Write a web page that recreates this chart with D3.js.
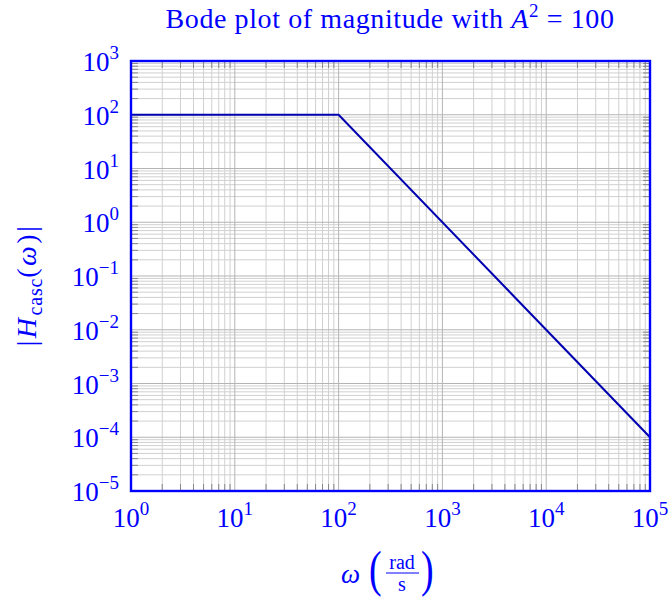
<!DOCTYPE html>
<html>
<head>
<meta charset="utf-8">
<script src="https://cdn.jsdelivr.net/npm/d3@7"></script>
<style>
  body { margin: 0; background: #fff; }
  text { font-family: "Liberation Serif", "DejaVu Serif", serif; fill: #0000ff; }
</style>
</head>
<body>
<svg id="chart" width="670" height="600"></svg>
<script>
// asymptotic bode magnitude, A^2 = 100, corner at 10^2
var omega = [1, 100, 100000];
var magnitude = [100, 100, 0.0001];
var xTickExps = [0, 1, 2, 3, 4, 5];
var yTickExps = [-5, -4, -3, -2, -1, 0, 1, 2, 3];

var svg = d3.select('#chart');
var margin = {left: 131, top: 61, right: 20, bottom: 109};
var w = 670 - margin.left - margin.right;
var h = 600 - margin.top - margin.bottom;

var x = d3.scaleLog().domain([1, 1e5]).range([0, w]);
var y = d3.scaleLog().domain([1e-5, 1e3]).range([h, 0]);

var g = svg.append('g').attr('transform', 'translate(' + margin.left + ',' + margin.top + ')');

// minor + major positions
var xMinor = [], yMinor = [];
for (var e = 0; e < 5; e++) for (var k = 2; k <= 9; k++) xMinor.push(k * Math.pow(10, e));
for (var e2 = -5; e2 < 3; e2++) for (var k2 = 2; k2 <= 9; k2++) yMinor.push(k2 * Math.pow(10, e2));
var xMajor = xTickExps.map(d => Math.pow(10, d));
var yMajor = yTickExps.map(d => Math.pow(10, d));

// grid
g.selectAll('.xminor').data(xMinor).enter().append('line')
  .attr('x1', d => x(d)).attr('x2', d => x(d)).attr('y1', 0).attr('y2', h)
  .attr('stroke', '#d0d0d0').attr('stroke-width', 1);
g.selectAll('.yminor').data(yMinor).enter().append('line')
  .attr('y1', d => y(d)).attr('y2', d => y(d)).attr('x1', 0).attr('x2', w)
  .attr('stroke', '#d0d0d0').attr('stroke-width', 1);
g.selectAll('.xmajor').data(xMajor).enter().append('line')
  .attr('x1', d => x(d)).attr('x2', d => x(d)).attr('y1', 0).attr('y2', h)
  .attr('stroke', '#b4b4b4').attr('stroke-width', 1);
g.selectAll('.ymajor').data(yMajor).enter().append('line')
  .attr('y1', d => y(d)).attr('y2', d => y(d)).attr('x1', 0).attr('x2', w)
  .attr('stroke', '#b4b4b4').attr('stroke-width', 1);

// inner ticks on all four sides
var tickCol = '#888';
[0, h].forEach(function(yy, i) {
  var dir = i === 0 ? 1 : -1;
  g.selectAll(null).data(xMinor).enter().append('line')
    .attr('x1', d => x(d)).attr('x2', d => x(d))
    .attr('y1', yy).attr('y2', yy + dir * 7)
    .attr('stroke', tickCol).attr('stroke-width', 1);
});
[0, w].forEach(function(xx, i) {
  var dir = i === 0 ? 1 : -1;
  g.selectAll(null).data(yMinor).enter().append('line')
    .attr('y1', d => y(d)).attr('y2', d => y(d))
    .attr('x1', xx).attr('x2', xx + dir * 7)
    .attr('stroke', tickCol).attr('stroke-width', 1);
});

// the curve
var line = d3.line().x((d, i) => x(omega[i])).y(d => y(d));
g.append('path').datum(magnitude)
  .attr('d', line)
  .attr('fill', 'none')
  .attr('stroke', '#0000b0')
  .attr('stroke-width', 2);

// frame
g.append('rect').attr('width', w).attr('height', h)
  .attr('fill', 'none').attr('stroke', '#0000ff').attr('stroke-width', 2.4);

// tick labels
function powLabel(sel, exp) {
  sel.append('tspan').text('10');
  sel.append('tspan').attr('dy', -12).attr('font-size', 19)
    .text(exp < 0 ? '\u2212' + (-exp) : exp);
}
xTickExps.forEach(function(e) {
  var t = g.append('text').attr('x', x(Math.pow(10, e))).attr('y', h + 36)
    .attr('text-anchor', 'middle').attr('font-size', 27);
  powLabel(t, e);
});
yTickExps.forEach(function(e) {
  var t = g.append('text').attr('x', -12).attr('y', y(Math.pow(10, e)) + 10)
    .attr('text-anchor', 'end').attr('font-size', 27);
  powLabel(t, e);
});

// title
var title = svg.append('text').attr('x', 390).attr('y', 28)
  .attr('text-anchor', 'middle').attr('font-size', 28)
  .attr('letter-spacing', 0.6);
title.append('tspan').text('Bode plot of magnitude with ');
title.append('tspan').attr('font-style', 'italic').text('A');
title.append('tspan').attr('dy', -11).attr('font-size', 19).text('2');
title.append('tspan').attr('dy', 11).text(' = 100');

// y label
var yl = svg.append('text').attr('transform', 'translate(36,285) rotate(-90)')
  .attr('text-anchor', 'middle').attr('font-size', 28).attr('letter-spacing', 2.5);
yl.append('tspan').text('|');
yl.append('tspan').attr('font-style', 'italic').text('H');
yl.append('tspan').attr('dy', 6).attr('font-size', 20).attr('letter-spacing', 0.8).text('casc');
yl.append('tspan').attr('dy', -6).text('(');
yl.append('tspan').attr('font-style', 'italic').text('\u03c9');
yl.append('tspan').text(')|');

// x label: omega (rad / s)
var xl = svg.append('g');
xl.append('text').attr('x', 341).attr('y', 583).attr('font-size', 27)
  .attr('font-style', 'italic').text('\u03c9');
xl.append('text').attr('x', 369).attr('y', 434).attr('font-size', 38)
  .attr('transform', 'scale(1,1.35)').text('(');
xl.append('text').attr('x', 421).attr('y', 434).attr('font-size', 38)
  .attr('transform', 'scale(1,1.35)').text(')');
xl.append('text').attr('x', 402).attr('y', 569).attr('font-size', 20)
  .attr('text-anchor', 'middle').text('rad');
xl.append('line').attr('x1', 386).attr('x2', 419).attr('y1', 573).attr('y2', 573)
  .attr('stroke', '#0000ff').attr('stroke-width', 1.2);
xl.append('text').attr('x', 402).attr('y', 591).attr('font-size', 20)
  .attr('text-anchor', 'middle').text('s');
</script>
</body>
</html>
